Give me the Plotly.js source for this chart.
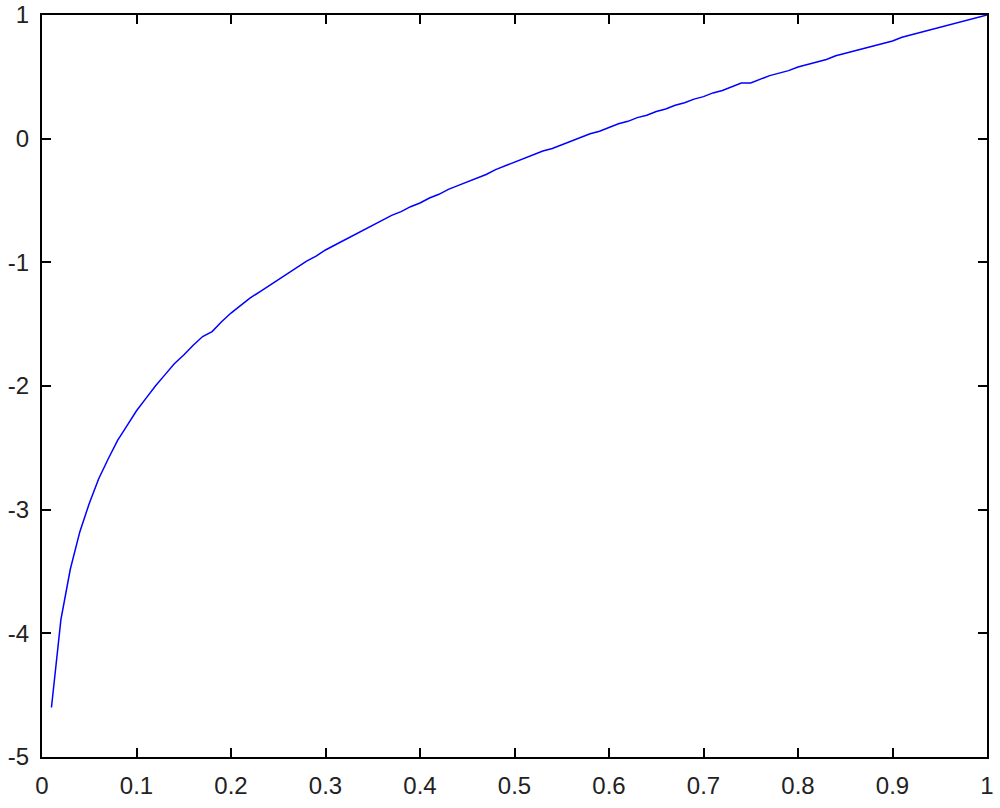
<!DOCTYPE html>
<html>
<head>
<meta charset="utf-8">
<script src="https://cdn.plot.ly/plotly-3.0.1.min.js"></script>
<style>html,body{margin:0;padding:0;background:#fff;}#chart{width:1000px;height:808px;}</style>
</head>
<body>
<div id="chart"></div>
<script>
const xValues = [0.01,0.02,0.03,0.04,0.05,0.06,0.07,0.08,0.09,0.10,
  0.11,0.12,0.13,0.14,0.15,0.16,0.17,0.18,0.19,0.20,
  0.21,0.22,0.23,0.24,0.25,0.26,0.27,0.28,0.29,0.30,
  0.31,0.32,0.33,0.34,0.35,0.36,0.37,0.38,0.39,0.40,
  0.41,0.42,0.43,0.44,0.45,0.46,0.47,0.48,0.49,0.50,
  0.51,0.52,0.53,0.54,0.55,0.56,0.57,0.58,0.59,0.60,
  0.61,0.62,0.63,0.64,0.65,0.66,0.67,0.68,0.69,0.70,
  0.71,0.72,0.73,0.74,0.75,0.76,0.77,0.78,0.79,0.80,
  0.81,0.82,0.83,0.84,0.85,0.86,0.87,0.88,0.89,0.90,
  0.91,0.92,0.93,0.94,0.95,0.96,0.97,0.98,0.99,1.00];
const yValues = [-4.60,-3.89,-3.48,-3.18,-2.95,-2.75,-2.59,-2.44,-2.32,-2.20,
  -2.10,-2.00,-1.91,-1.82,-1.75,-1.67,-1.60,-1.56,-1.48,-1.41,
  -1.35,-1.29,-1.24,-1.19,-1.14,-1.09,-1.04,-0.99,-0.95,-0.90,
  -0.86,-0.82,-0.78,-0.74,-0.70,-0.66,-0.62,-0.59,-0.55,-0.52,
  -0.48,-0.45,-0.41,-0.38,-0.35,-0.32,-0.29,-0.25,-0.22,-0.19,
  -0.16,-0.13,-0.10,-0.08,-0.05,-0.02,0.01,0.04,0.06,0.09,
  0.12,0.14,0.17,0.19,0.22,0.24,0.27,0.29,0.32,0.34,
  0.37,0.39,0.42,0.45,0.45,0.48,0.51,0.53,0.55,0.58,
  0.60,0.62,0.64,0.67,0.69,0.71,0.73,0.75,0.77,0.79,
  0.82,0.84,0.86,0.88,0.90,0.92,0.94,0.96,0.98,1.00];

const xTickVals = [0,0.1,0.2,0.3,0.4,0.5,0.6,0.7,0.8,0.9,1];
const xTickText = ["0","0.1","0.2","0.3","0.4","0.5","0.6","0.7","0.8","0.9","1"];
const yTickVals = [-5,-4,-3,-2,-1,0,1];
const yTickText = ["-5","-4","-3","-2","-1","0","1"];

const axisCommon = {
  showgrid: false, zeroline: false, showline: true, linecolor: '#000', linewidth: 2,
  mirror: 'ticks', ticks: 'inside', ticklen: 9, tickwidth: 2, tickcolor: '#000',
  tickfont: {family: 'Liberation Sans, Arial, sans-serif', size: 24, color: '#222'},
  tickmode: 'array'
};

const trace = {
  x: xValues, y: yValues, type: 'scatter', mode: 'lines',
  line: {color: '#0000ff', width: 1.5}, hoverinfo: 'none'
};

const layout = {
  width: 1000, height: 808,
  margin: {l: 42, r: 13, t: 15, b: 51, pad: 0},
  paper_bgcolor: '#fff', plot_bgcolor: '#fff',
  showlegend: false,
  xaxis: Object.assign({}, axisCommon, {range: [0, 1], tickvals: xTickVals, ticktext: xTickText, ticklabelstandoff: 6}),
  yaxis: Object.assign({}, axisCommon, {range: [-5, 1], tickvals: yTickVals, ticktext: yTickText, ticklabelstandoff: 6})
};

Plotly.newPlot('chart', [trace], layout, {staticPlot: true, displayModeBar: false});
</script>
</body>
</html>
